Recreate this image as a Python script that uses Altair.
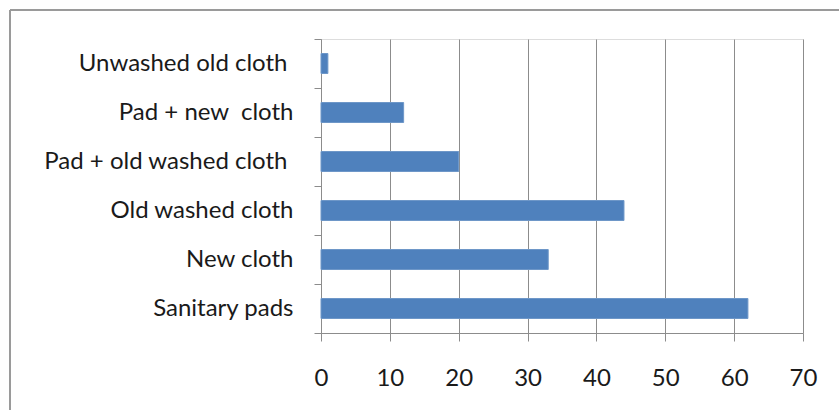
import altair as alt
import pandas as pd

# Sanitary material used during menstruation (% of respondents)
categories = [
    "Unwashed old cloth",
    "Pad + new\u00a0 cloth",
    "Pad + old washed cloth",
    "Old washed cloth",
    "New cloth",
    "Sanitary pads",
]
values = [1, 12, 20, 44, 33, 62]
x_ticks = [0, 10, 20, 30, 40, 50, 60, 70]

df = pd.DataFrame({"material": categories, "percent": values})

FONT = "Lato"
FS = 24
W, H = 482, 294
PAD_L, PAD_T = 321, 39
AXIS_GREY = "#8C8C8C"

# two labels carry a trailing blank and sit a little further from the axis
wide_labels = "datum.value == 'Unwashed old cloth' || datum.value == 'Pad + old washed cloth'"

bars = alt.Chart(df).mark_bar(
    color="#4F81BD", stroke="#6E97C8", strokeWidth=1, size=20
).encode(
    x=alt.X(
        "percent:Q",
        scale=alt.Scale(domain=[0, 70], nice=False),
        axis=alt.Axis(
            values=x_ticks, title=None, grid=True, gridColor=AXIS_GREY,
            domainColor=AXIS_GREY, tickColor=AXIS_GREY, tickSize=8,
            labelPadding=25, labelFontSize=FS, labelFont=FONT,
            labelColor="#1a1a1a", labelFlush=False,
        ),
    ),
    y=alt.Y(
        "material:N",
        sort=categories,
        scale=alt.Scale(paddingInner=0, paddingOuter=0),
        axis=alt.Axis(
            title=None, tickBand="extent", domainColor=AXIS_GREY,
            tickColor=AXIS_GREY, tickSize=7,
            labelPadding={"condition": {"test": wide_labels, "value": 27}, "value": 21},
            labelFontSize=FS, labelFont=FONT, labelColor="#1a1a1a",
            labelLimit=0,
        ),
    ),
)

# outer chart frame (top and left edges)
frame_top = alt.Chart(df).mark_rule(color="#9A9A9A", strokeWidth=2).encode(
    x=alt.value(-PAD_L + 10), x2=alt.value(W + 40), y=alt.value(-PAD_T + 10)
)
frame_left = alt.Chart(df).mark_rule(color="#9A9A9A", strokeWidth=2).encode(
    x=alt.value(-PAD_L + 10), y=alt.value(-PAD_T + 10), y2=alt.value(H + 80)
)

chart = alt.layer(bars, frame_top, frame_left).properties(
    width=W, height=H,
    autosize=alt.AutoSizeParams(type="none"),
    padding={"left": PAD_L, "top": PAD_T, "right": 839 - PAD_L - W,
             "bottom": 410 - PAD_T - H},
).configure_view(stroke=None).configure(background="white")

chart.save("out.html", embed_options={"renderer": "svg", "actions": False})
